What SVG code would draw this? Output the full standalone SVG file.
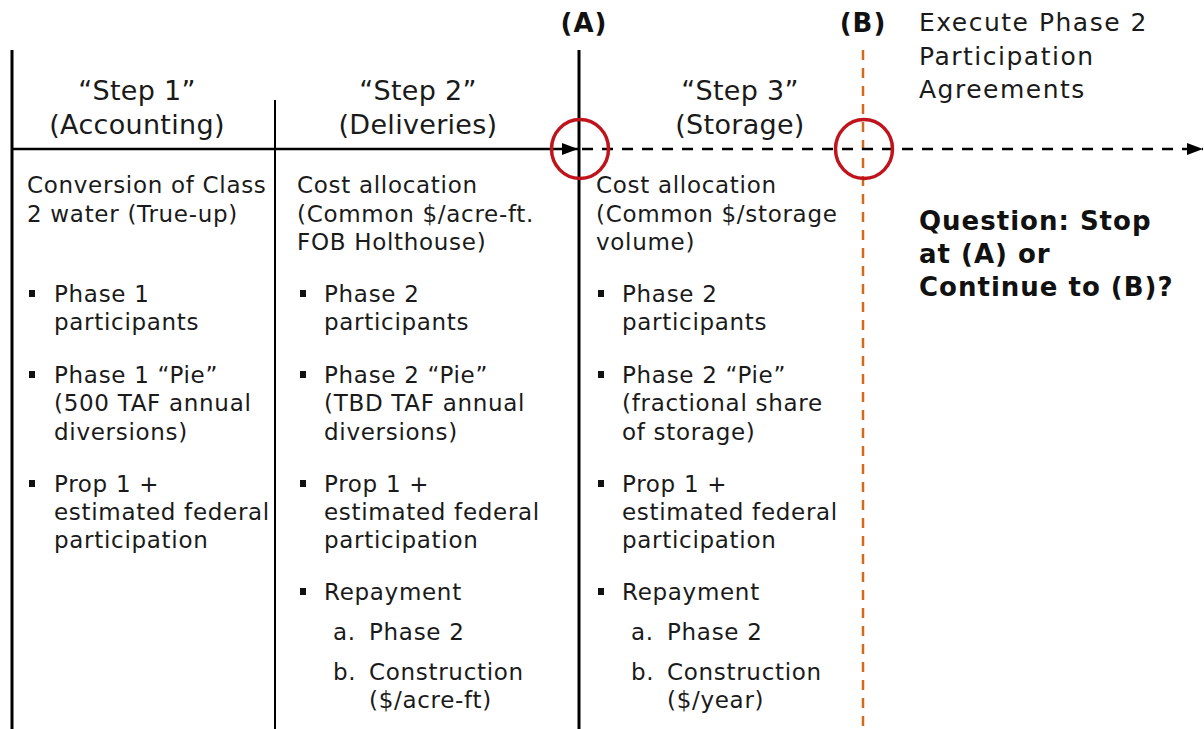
<svg xmlns="http://www.w3.org/2000/svg" width="1204" height="729" viewBox="0 0 1204 729">
<style>
.h{font-family:"DejaVu Sans",Verdana,sans-serif;font-size:27px;letter-spacing:0.3px;fill:#1a1a1a;text-anchor:middle}
.t{font-family:"DejaVu Sans",Verdana,sans-serif;font-size:23px;letter-spacing:0.7px;fill:#1a1a1a}
.b{font-family:"DejaVu Sans",Verdana,sans-serif;font-size:26px;letter-spacing:1px;font-weight:bold;fill:#111}
.r{font-family:"DejaVu Sans",Verdana,sans-serif;font-size:25px;letter-spacing:1.5px;fill:#1a1a1a}
.bul{fill:#111}
.ring{fill:none;stroke:#c0141c;stroke-width:3.5}
</style>
<defs>
<marker id="ah" markerWidth="16" markerHeight="12" refX="16" refY="6" orient="auto" markerUnits="userSpaceOnUse">
<path d="M0,0 L16,6 L0,12 Z" fill="#000"/>
</marker>
</defs>
<rect width="1204" height="729" fill="#fff"/>
<g id="connectors">
<line x1="12" y1="50" x2="12" y2="729" stroke="#000" stroke-width="3"/>
<line x1="275" y1="100" x2="275" y2="729" stroke="#000" stroke-width="2"/>
<line x1="579" y1="50" x2="579" y2="729" stroke="#000" stroke-width="3"/>
<line x1="863" y1="50" x2="863" y2="729" stroke="#d2691e" stroke-width="2.5" stroke-dasharray="10,8"/>
<line x1="12" y1="149" x2="578" y2="149" stroke="#000" stroke-width="2.5" marker-end="url(#ah)"/>
<line x1="582" y1="149" x2="1203" y2="149" stroke="#000" stroke-width="2.5" stroke-dasharray="11,9" marker-end="url(#ah)"/>
</g>
<g id="markerA">
<text class="b" x="584" y="32" text-anchor="middle">(A)</text>
<ellipse class="ring" cx="580" cy="149" rx="28.5" ry="29.5"/>
</g>
<g id="markerB">
<text class="b" x="863" y="32" text-anchor="middle">(B)</text>
<ellipse class="ring" cx="864" cy="149" rx="28.5" ry="29.5"/>
</g>
<g id="execute">
<text class="r" x="919" y="31">Execute Phase 2</text>
<text class="r" x="919" y="65">Participation</text>
<text class="r" x="919" y="98">Agreements</text>
</g>
<g id="question">
<text class="b" x="919" y="230">Question: Stop</text>
<text class="b" x="919" y="263">at (A) or</text>
<text class="b" x="919" y="296">Continue to (B)?</text>
</g>
<g id="step1">
<text class="h" x="137" y="100">“Step 1”</text>
<text class="h" x="137" y="134">(Accounting)</text>
<text class="t" x="27" y="193">Conversion of Class</text>
<text class="t" x="27" y="222">2 water (True-up)</text>
<rect class="bul" x="29" y="290" width="6" height="7"/>
<text class="t" x="54" y="302">Phase 1</text>
<text class="t" x="54" y="330">participants</text>
<rect class="bul" x="29" y="371" width="6" height="7"/>
<text class="t" x="54" y="383">Phase 1 “Pie”</text>
<text class="t" x="54" y="411">(500 TAF annual</text>
<text class="t" x="54" y="440">diversions)</text>
<rect class="bul" x="29" y="480" width="6" height="7"/>
<text class="t" x="54" y="492">Prop 1 +</text>
<text class="t" x="54" y="520">estimated federal</text>
<text class="t" x="54" y="548">participation</text>
</g>
<g id="step2">
<text class="h" x="418" y="100">“Step 2”</text>
<text class="h" x="418" y="134">(Deliveries)</text>
<text class="t" x="297" y="193">Cost allocation</text>
<text class="t" x="297" y="222">(Common $/acre-ft.</text>
<text class="t" x="297" y="250">FOB Holthouse)</text>
<rect class="bul" x="300" y="290" width="6" height="7"/>
<text class="t" x="324" y="302">Phase 2</text>
<text class="t" x="324" y="330">participants</text>
<rect class="bul" x="300" y="371" width="6" height="7"/>
<text class="t" x="324" y="383">Phase 2 “Pie”</text>
<text class="t" x="324" y="411">(TBD TAF annual</text>
<text class="t" x="324" y="440">diversions)</text>
<rect class="bul" x="300" y="480" width="6" height="7"/>
<text class="t" x="324" y="492">Prop 1 +</text>
<text class="t" x="324" y="520">estimated federal</text>
<text class="t" x="324" y="548">participation</text>
<rect class="bul" x="300" y="588" width="6" height="7"/>
<text class="t" x="324" y="600">Repayment</text>
<text class="t" x="333" y="640">a.</text>
<text class="t" x="369" y="640">Phase 2</text>
<text class="t" x="333" y="680">b.</text>
<text class="t" x="369" y="680">Construction</text>
<text class="t" x="369" y="708">($/acre-ft)</text>
</g>
<g id="step3">
<text class="h" x="740" y="100">“Step 3”</text>
<text class="h" x="740" y="134">(Storage)</text>
<text class="t" x="596" y="193">Cost allocation</text>
<text class="t" x="596" y="222">(Common $/storage</text>
<text class="t" x="596" y="250">volume)</text>
<rect class="bul" x="598" y="290" width="6" height="7"/>
<text class="t" x="622" y="302">Phase 2</text>
<text class="t" x="622" y="330">participants</text>
<rect class="bul" x="598" y="371" width="6" height="7"/>
<text class="t" x="622" y="383">Phase 2 “Pie”</text>
<text class="t" x="622" y="411">(fractional share</text>
<text class="t" x="622" y="440">of storage)</text>
<rect class="bul" x="598" y="480" width="6" height="7"/>
<text class="t" x="622" y="492">Prop 1 +</text>
<text class="t" x="622" y="520">estimated federal</text>
<text class="t" x="622" y="548">participation</text>
<rect class="bul" x="598" y="588" width="6" height="7"/>
<text class="t" x="622" y="600">Repayment</text>
<text class="t" x="631" y="640">a.</text>
<text class="t" x="667" y="640">Phase 2</text>
<text class="t" x="631" y="680">b.</text>
<text class="t" x="667" y="680">Construction</text>
<text class="t" x="667" y="708">($/year)</text>
</g>
</svg>
